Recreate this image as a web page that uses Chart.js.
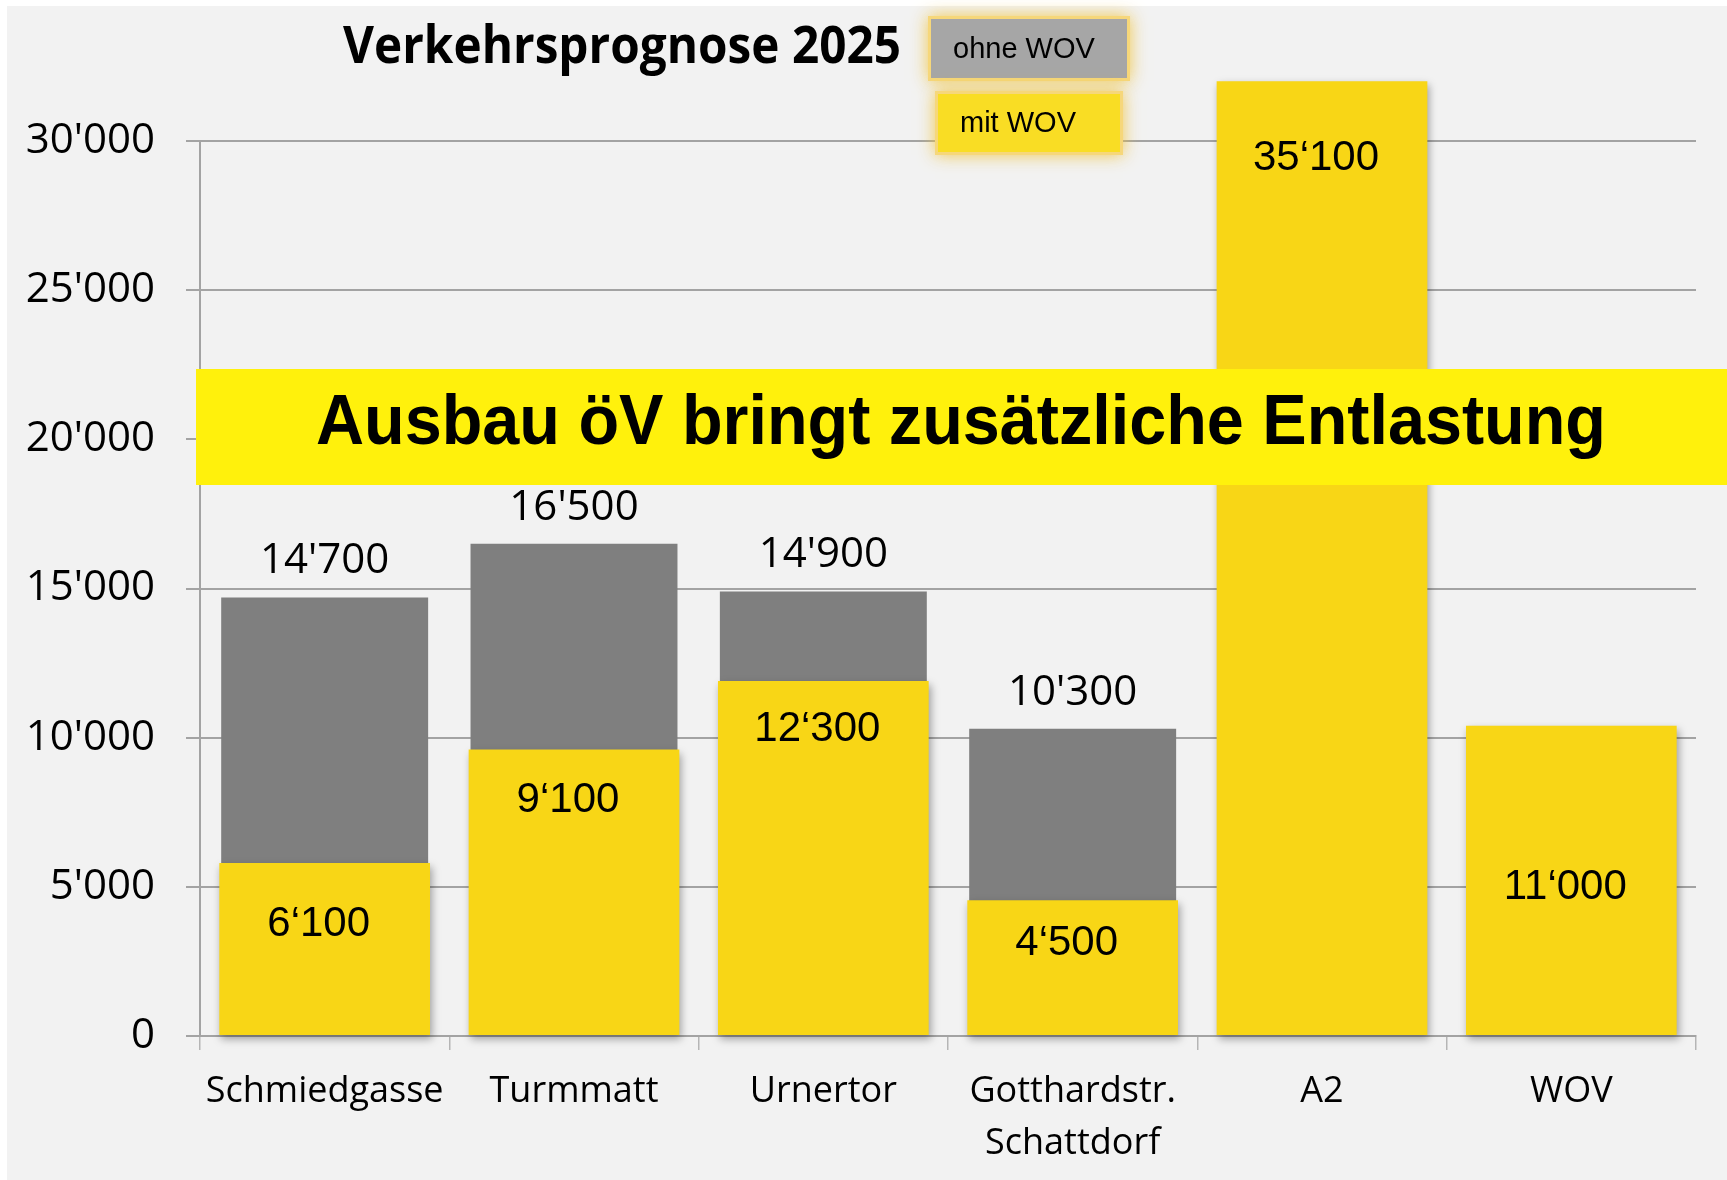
<!DOCTYPE html>
<html lang="de">
<head>
<meta charset="utf-8">
<title>Verkehrsprognose 2025</title>
<script src="https://cdn.jsdelivr.net/npm/chart.js@4/dist/chart.umd.min.js"></script>
<style>
    html, body { margin: 0; padding: 0; background: #ffffff; overflow: hidden; }
    canvas { display: block; }
</style>
</head>
<body>
<canvas id="chart" width="1727" height="1180"></canvas>
<script>
// Daten
const categories = ['Schmiedgasse', 'Turmmatt', 'Urnertor', ['Gotthardstr.', 'Schattdorf'], 'A2', 'WOV'];
const ohneWov = [14700, 16500, 14900, 10300, 28300, null];
const mitWov = [5800, 9600, 11900, 4550, 32000, 10400];
const ohneLabels = ["14'700", "16'500", "14'900", "10'300", "", ""];
const mitLabels = ['6‘100', '9‘100', '12‘300', '4‘500', '35‘100', '11‘000'];
const yTicks = [0, 5000, 10000, 15000, 20000, 25000, 30000];

const titleText = 'Verkehrsprognose 2025';
const bannerText = 'Ausbau öV bringt zusätzliche Entlastung';

// Layout der Beschriftungen in den gelben Balken (px unter Balkenoberkante)
const mitLabelOffsets = [61, 51, 48, 43, 77, 162];

const GRAY = '#7f7f7f';
const YELLOW = '#f8d616';
const GRID = '#a3a3a3';

function fmt(v) {
    if (v === 0) return '0';
    return Math.floor(v / 1000) + "'" + String(v % 1000).padStart(3, '0');
}

// Hintergrund
const backgroundPlugin = {
    id: 'background',
    beforeDraw(chart) {
        const ctx = chart.ctx;
        ctx.save();
        ctx.fillStyle = '#ffffff';
        ctx.fillRect(0, 0, chart.width, chart.height);
        ctx.fillStyle = '#f2f2f2';
        ctx.fillRect(7, 6, chart.width - 7, chart.height - 6);
        ctx.restore();
    }
};

// Schatten unter den gelben Balken
const shadowPlugin = {
    id: 'barShadow',
    beforeDatasetDraw(chart, args) {
        if (args.index !== 0) return;
        const ctx = chart.ctx;
        ctx.save();
        ctx.shadowColor = 'rgba(0,0,0,0.35)';
        ctx.shadowBlur = 8;
        ctx.shadowOffsetX = 2;
        ctx.shadowOffsetY = 4;
    },
    afterDatasetDraw(chart, args) {
        if (args.index !== 0) return;
        chart.ctx.restore();
    }
};

// Werte ueber / in den Balken
const valueLabelPlugin = {
    id: 'valueLabels',
    afterDatasetsDraw(chart) {
        const ctx = chart.ctx;
        ctx.save();
        ctx.textAlign = 'center';
        ctx.textBaseline = 'middle';
        ctx.fillStyle = '#000000';

        const grayMeta = chart.getDatasetMeta(1);
        ctx.font = "42px 'Open Sans'";
        grayMeta.data.forEach((bar, i) => {
            if (!ohneLabels[i]) return;
            ctx.fillText(ohneLabels[i], bar.x, bar.y - 36);
        });

        const yellowMeta = chart.getDatasetMeta(0);
        ctx.font = "42px 'Liberation Sans', Arial";
        yellowMeta.data.forEach((bar, i) => {
            ctx.fillText(mitLabels[i], bar.x - 6, bar.y + mitLabelOffsets[i]);
        });
        ctx.restore();
    }
};

// Titel, eigene Legende und Banner
const overlayPlugin = {
    id: 'overlay',
    afterDraw(chart) {
        const ctx = chart.ctx;
        ctx.save();

        // Titel
        ctx.fillStyle = '#000000';
        ctx.textAlign = 'left';
        ctx.textBaseline = 'alphabetic';
        ctx.font = "bold 52px 'Open Sans'";
        ctx.fillText(titleText, 343, 63, 558);

        // Legende
        const ds = chart.data.datasets;
        const boxes = [
            { label: ds[1].label, color: '#a6a6a6', x: 931, y: 19, w: 196, h: 59 },
            { label: ds[0].label, color: '#f9dd24', x: 938, y: 94, w: 182, h: 58 }
        ];
        boxes.forEach(b => {
            ctx.save();
            ctx.shadowColor = 'rgba(240,195,60,0.9)';
            ctx.shadowBlur = 16;
            ctx.fillStyle = '#f6d77a';
            ctx.fillRect(b.x - 3, b.y - 3, b.w + 6, b.h + 6);
            ctx.restore();
            ctx.fillStyle = b.color;
            ctx.fillRect(b.x, b.y, b.w, b.h);
            ctx.fillStyle = '#000000';
            ctx.textBaseline = 'middle';
            ctx.font = "29px 'Liberation Sans', Arial";
            ctx.fillText(b.label, b.x + 22, b.y + b.h / 2 + 1);
        });

        // Banner
        ctx.fillStyle = '#fff10c';
        ctx.fillRect(196, 369, chart.width - 196, 116);
        ctx.fillStyle = '#000000';
        ctx.textAlign = 'center';
        ctx.textBaseline = 'alphabetic';
        ctx.font = "bold 71px 'Liberation Sans', Arial";
        ctx.fillText(bannerText, 961, 444, 1290);

        ctx.restore();
    }
};

const chartCtx = document.getElementById('chart').getContext('2d');

new Chart(chartCtx, {
    type: 'bar',
    data: {
        labels: categories,
        datasets: [
            {
                label: 'mit WOV',
                data: mitWov,
                backgroundColor: YELLOW,
                barPercentage: 0.845,
                categoryPercentage: 1,
                grouped: false,
                order: 0,
                clip: false
            },
            {
                label: 'ohne WOV',
                data: ohneWov,
                backgroundColor: GRAY,
                barPercentage: 0.83,
                categoryPercentage: 1,
                grouped: false,
                order: 1
            }
        ]
    },
    options: {
        responsive: false,
        animation: false,
        events: [],
        layout: { padding: { top: 141, right: 31, bottom: 0, left: 0 } },
        plugins: {
            legend: { display: false },
            title: { display: false },
            tooltip: { enabled: false }
        },
        scales: {
            x: {
                offset: true,
                afterFit: s => { s.height = 144; },
                grid: {
                    display: true,
                    drawOnChartArea: false,
                    drawTicks: true,
                    tickLength: 14,
                    color: '#b5b5b5',
                    lineWidth: 1.5,
                    offset: true
                },
                border: { display: true, color: GRID, width: 2 },
                ticks: {
                    color: '#000000',
                    font: { family: "'Open Sans'", size: 36, lineHeight: 1.44 },
                    padding: 16,
                    maxRotation: 0,
                    autoSkip: false
                }
            },
            y: {
                min: 0,
                max: 30000,
                afterFit: s => { s.width = 200; },
                afterBuildTicks: s => { s.ticks = yTicks.map(v => ({ value: v })); },
                grid: {
                    color: GRID,
                    lineWidth: 2,
                    tickLength: 14
                },
                border: { display: true, color: GRID, width: 2 },
                ticks: {
                    color: '#000000',
                    font: { family: "'Open Sans'", size: 42 },
                    padding: 31,
                    callback: v => fmt(v)
                }
            }
        }
    },
    plugins: [backgroundPlugin, shadowPlugin, valueLabelPlugin, overlayPlugin]
});
</script>
</body>
</html>
